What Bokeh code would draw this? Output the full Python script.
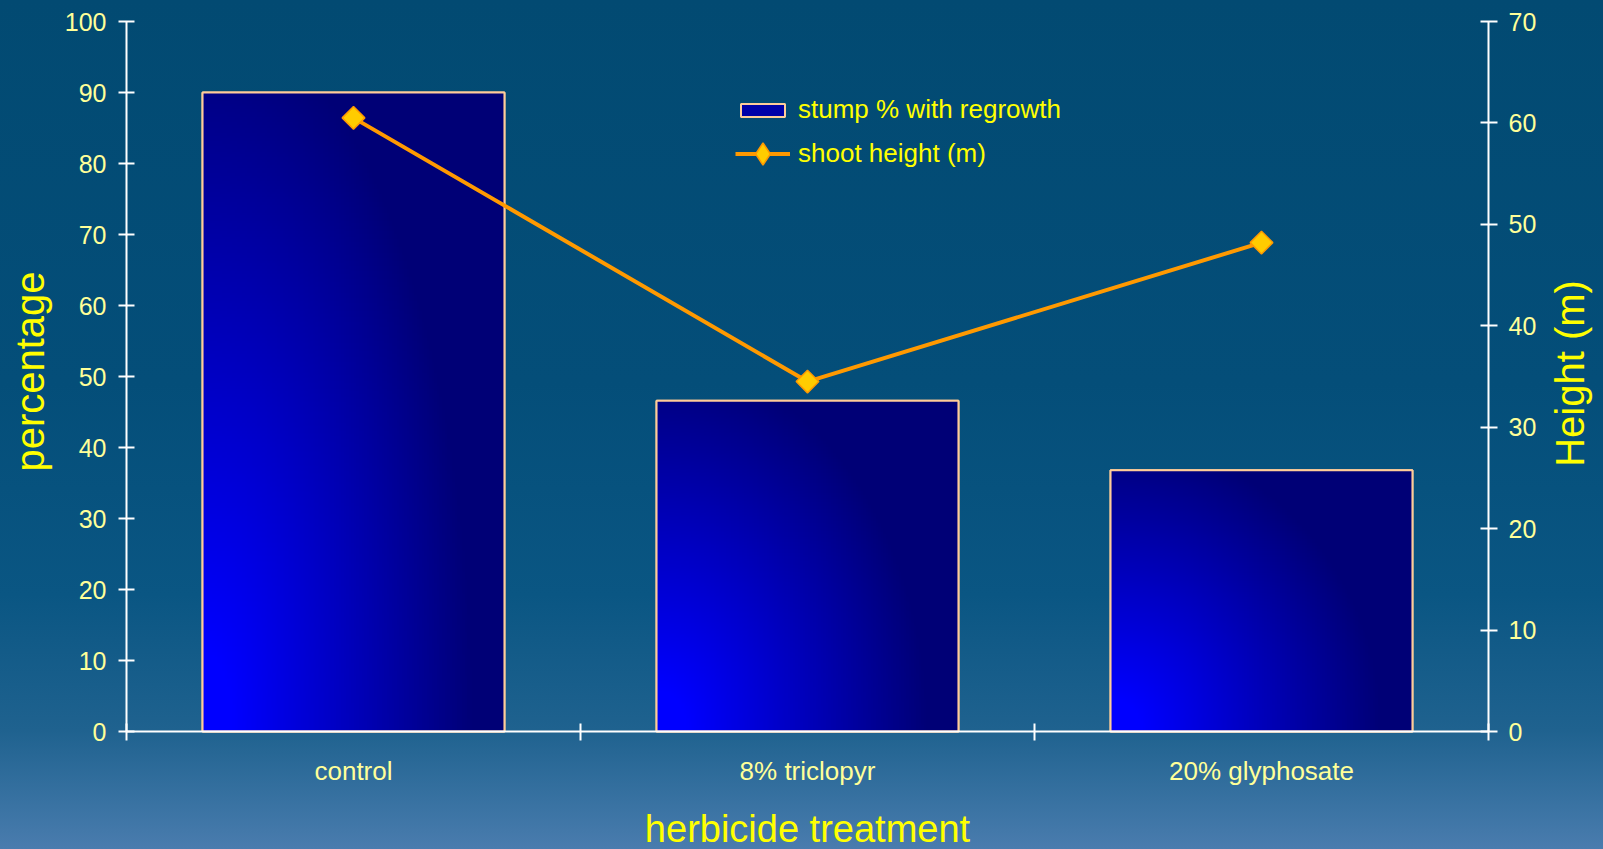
import numpy as np
from bokeh.plotting import figure
from bokeh.models import (Range1d, LinearAxis, FixedTicker, Legend, LegendItem, Label,
                          ColumnDataSource)
from bokeh.embed import file_html
from bokeh.resources import INLINE

# ---- data ----
categories = ["control", "8% triclopyr", "20% glyphosate"]
stump_pct = [90.0, 46.6, 36.8]          # left axis (percentage)
shoot_height = [60.5, 34.5, 48.2]       # right axis (Height (m))
left_ticks = list(range(0, 101, 10))
right_ticks = list(range(0, 71, 10))
left_max, right_max = 100, 70

FONT = "Liberation Sans"
TICK_COLOR = "#FFFF99"
TITLE_COLOR = "#FFFF00"

# ---- layout (pixels): the plot frame covers the whole canvas; the axes are drawn
# at fixed locations so the titles can sit in the margins as ordinary labels ----
W, H = 1603, 849
AX_L, AX_R, AX_T, AX_B = 126, 1488, 21, 731
ncat = len(categories)
ux = ncat / (AX_R - AX_L)
uy = left_max / (AX_B - AX_T)
uh = right_max / (AX_B - AX_T)

xs = [i + 0.5 for i in range(ncat)]
bar_w = 0.665

p = figure(width=W, height=H, output_backend="svg", toolbar_location=None,
           x_range=Range1d(-AX_L * ux, ncat + (W - AX_R) * ux),
           y_range=Range1d(-(H - AX_B) * uy, left_max + AX_T * uy),
           min_border=0, min_border_left=0, min_border_right=0, min_border_top=0,
           min_border_bottom=0, x_axis_location=None, y_axis_location=None)
p.styles = {"position": "fixed", "left": "0px", "top": "0px",
            "background": "linear-gradient(to bottom, #024a72 0%, #044e79 45%, "
                          "#0a5683 70%, #1f628f 86%, #3a73a3 95%, #4a7cae 100%)"}
p.background_fill_color = None
p.border_fill_color = None
p.outline_line_color = None
p.grid.visible = False
p.extra_y_ranges = {"h": Range1d(-(H - AX_B) * uh, right_max + AX_T * uh)}

def style_axis(ax):
    ax.axis_line_color = "white"
    ax.axis_line_width = 2
    ax.major_tick_line_color = "white"
    ax.major_tick_line_width = 2
    ax.minor_tick_line_color = None
    ax.major_label_text_color = TICK_COLOR
    ax.major_label_text_font = FONT
    ax.major_label_text_font_size = "25px"

left = LinearAxis(ticker=FixedTicker(ticks=left_ticks), fixed_location=0,
                  bounds=(0, left_max))
style_axis(left)
left.major_tick_in = 8
left.major_tick_out = 8
left.major_label_standoff = 12
p.add_layout(left, "left")

right = LinearAxis(y_range_name="h", ticker=FixedTicker(ticks=right_ticks),
                   fixed_location=ncat, bounds=(0, right_max))
style_axis(right)
right.major_tick_in = 8
right.major_tick_out = 9
right.major_label_standoff = 11
p.add_layout(right, "right")

bottom = LinearAxis(ticker=FixedTicker(ticks=xs, minor_ticks=list(range(ncat + 1))),
                    major_label_overrides={x: c for x, c in zip(xs, categories)},
                    fixed_location=0, bounds=(0, ncat))
style_axis(bottom)
bottom.major_tick_in = 0
bottom.major_tick_out = 0
bottom.minor_tick_line_color = "white"
bottom.minor_tick_line_width = 2
bottom.minor_tick_in = 8
bottom.minor_tick_out = 9
bottom.major_label_standoff = 15
bottom.major_label_text_font_size = "26px"
p.add_layout(bottom, "below")

# ---- axis titles ----
title_kw = dict(text_color=TITLE_COLOR, text_font=FONT, text_align="center",
                text_baseline="middle")
p.add_layout(Label(x=0, y=left_max / 2, x_offset=-97, y_offset=5, angle=np.pi / 2,
                   text="percentage", text_font_size="40px", **title_kw))
p.add_layout(Label(x=ncat, y=right_max / 2, y_range_name="h", x_offset=81, y_offset=3,
                   angle=np.pi / 2, text="Height (m)", text_font_size="40px", **title_kw))
p.add_layout(Label(x=ncat / 2, y=0, y_offset=-97, text="herbicide treatment",
                   text_font_size="38px", **title_kw))

# ---- bars: base fill (legend swatch), gradient image, outline ----
bars = p.vbar(x=xs, top=stump_pct, width=bar_w, fill_color="#0000a8",
              line_color="#FFCC99", line_width=2)

def gradient_image(nx=120, ny=240):
    u = np.linspace(0, 1, nx)[None, :]
    v = np.linspace(0, 1, ny)[:, None]
    r = np.sqrt(u ** 2 + (0.8 * v) ** 2)
    t = np.clip((r - 0.1) / 0.8, 0, 1)
    img = np.zeros((ny, nx), dtype=np.uint32)
    view = img.view(dtype=np.uint8).reshape((ny, nx, 4))
    view[:, :, 2] = (255 - t * (255 - 118)).astype(np.uint8)
    view[:, :, 3] = 255
    return img

imgs = [gradient_image() for _ in categories]
p.image_rgba(image=imgs, x=[x - bar_w / 2 for x in xs], y=[0] * ncat,
             dw=[bar_w] * ncat, dh=stump_pct)
p.vbar(x=xs, top=stump_pct, width=bar_w, fill_alpha=0,
       line_color="#FFCC99", line_width=2)

# ---- shoot height line ----
hsrc = ColumnDataSource(data=dict(x=xs, y=shoot_height))
ln = p.line(x="x", y="y", source=hsrc, y_range_name="h", line_color="#FF9900", line_width=4)
# zero-size diamonds: only provide the legend swatch (legend sizes markers itself)
mk_leg = p.scatter(x="x", y="y", source=hsrc, y_range_name="h", marker="diamond",
                   size=0, fill_color="#FFCC00", line_color="#FF9900", line_width=1.5)
mk = p.scatter(x="x", y="y", source=hsrc, y_range_name="h", marker="square", angle=np.pi / 4,
               size=16, fill_color="#FFCC00", line_color="#FF9900", line_width=1.5)

def make_legend(items, loc, gh):
    lg = Legend(items=items, location=loc, orientation="vertical")
    lg.background_fill_alpha = 0
    lg.border_line_color = None
    lg.padding = 0
    lg.margin = 0
    lg.spacing = 0
    lg.glyph_width = 55
    lg.glyph_height = gh
    lg.label_standoff = 8
    lg.label_text_color = TITLE_COLOR
    lg.label_text_font = FONT
    lg.label_text_font_size = "26px"
    p.add_layout(lg, "center")

make_legend([LegendItem(label="stump % with regrowth", renderers=[bars])], (735, 724), 16)
make_legend([LegendItem(label="shoot height (m)", renderers=[ln, mk_leg])], (735, 663), 65)

open("out.html", "w").write(file_html(p, INLINE))
